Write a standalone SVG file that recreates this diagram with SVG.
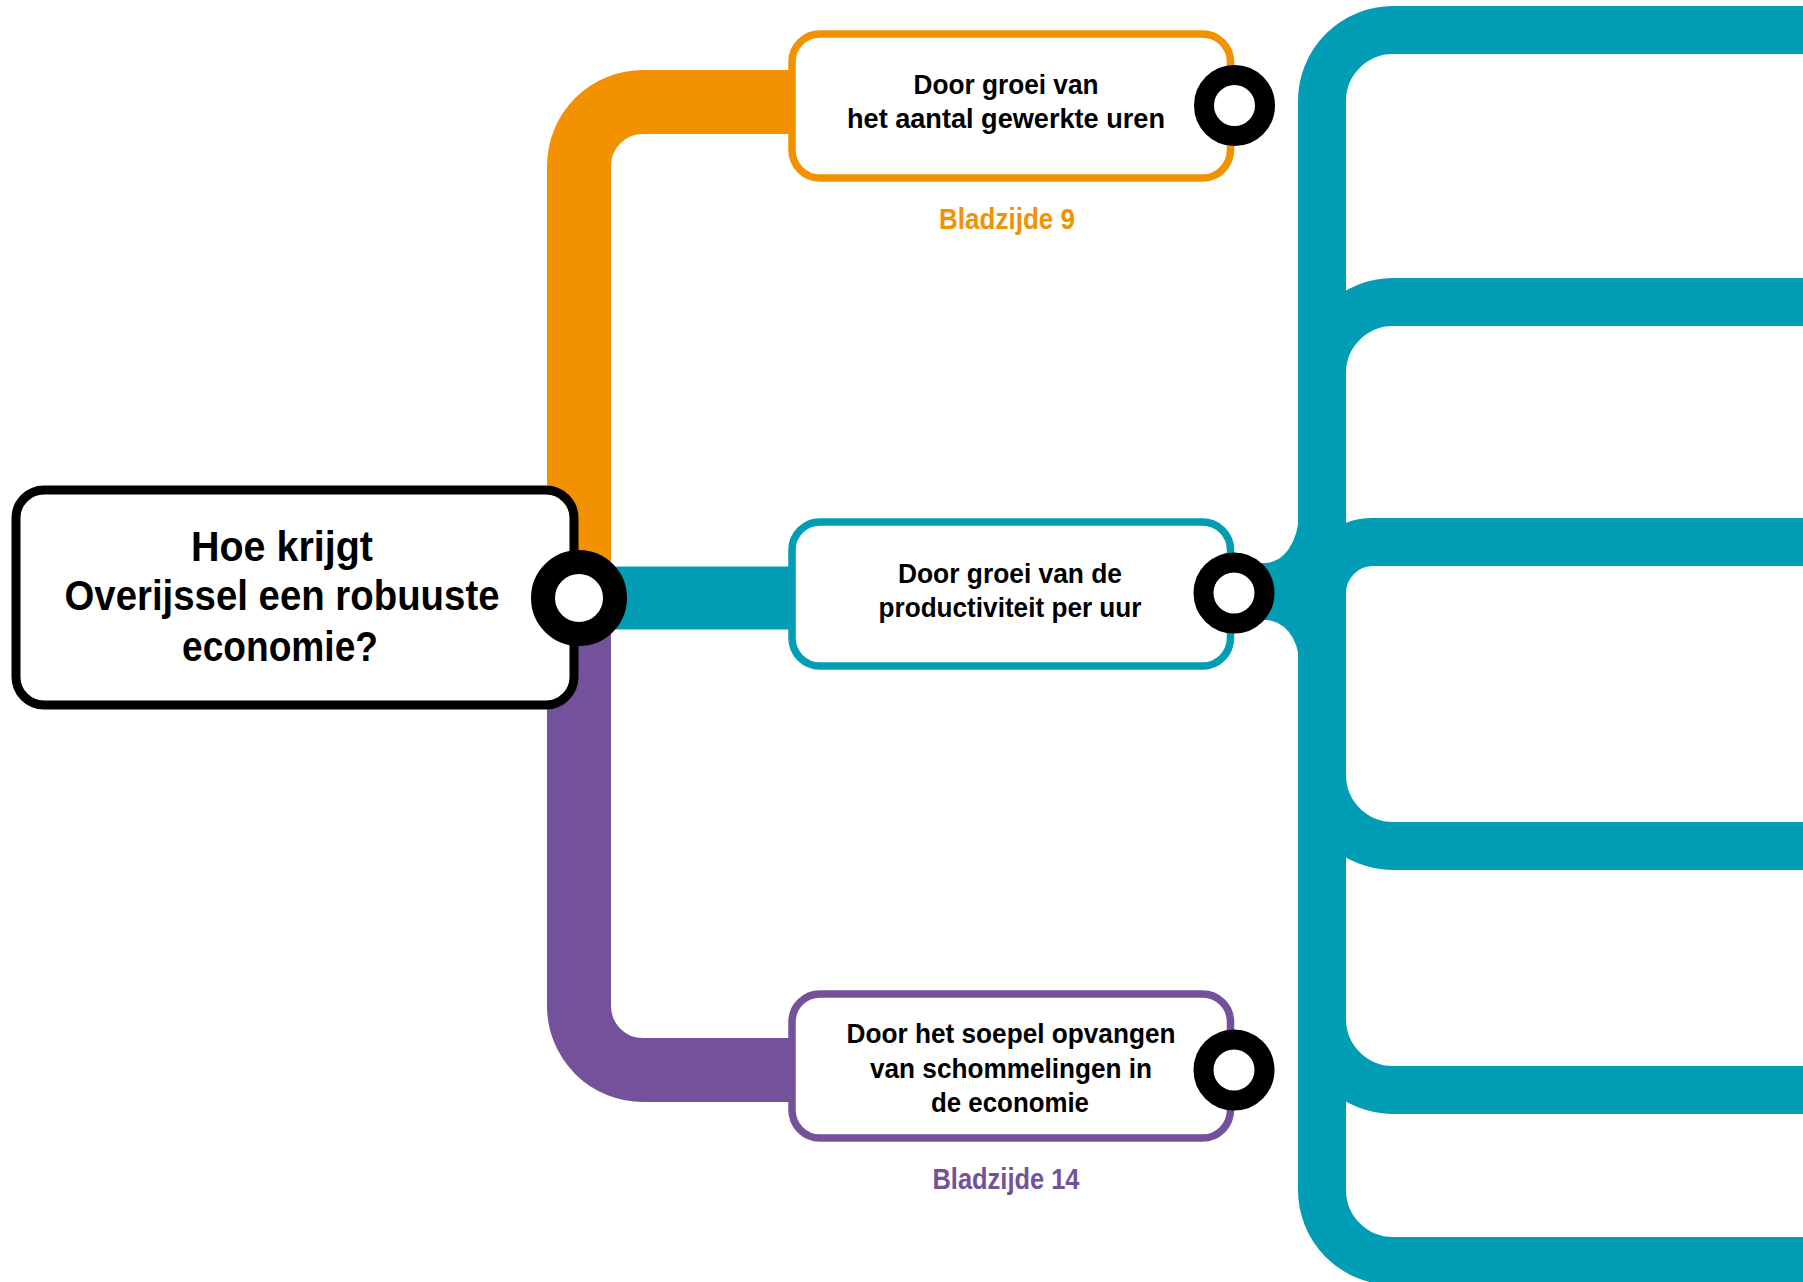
<svg xmlns="http://www.w3.org/2000/svg" width="1803" height="1282" viewBox="0 0 1803 1282">
<style>
.rail{fill:none}
.t{font-family:"Liberation Sans","Open Sans",Arial,sans-serif;font-weight:bold;fill:#000;text-anchor:middle}
.s{font-size:28px}
.m{font-size:42px}
.pg{font-size:29px}
.box{fill:#fff;stroke-width:7.5}
.ring{fill:#fff;stroke:#000}
</style>
<rect x="0" y="0" width="1803" height="1282" fill="#fff"/>
<g id="connectors">
  <path class="rail" d="M 1803 30 H 1393 A 71 71 0 0 0 1322 101 V 1190 A 71 71 0 0 0 1393 1261 H 1803" stroke="#009DB4" stroke-width="48"/>
  <path class="rail" d="M 1322 373 A 71 71 0 0 1 1393 302 H 1803" stroke="#009DB4" stroke-width="48"/>
  <path class="rail" d="M 1322 593 A 51 51 0 0 1 1373 542 H 1803" stroke="#009DB4" stroke-width="48"/>
  <path class="rail" d="M 1322 775 A 71 71 0 0 0 1393 846 H 1803" stroke="#009DB4" stroke-width="48"/>
  <path class="rail" d="M 1322 1019 A 71 71 0 0 0 1393 1090 H 1803" stroke="#009DB4" stroke-width="48"/>
  <path d="M 1299 505 V 513 A 34 50 0 0 1 1264 563 L 1240 563 L 1240 620 L 1264 620 A 34 42 0 0 1 1299 662 V 670 Z" fill="#009DB4"/>
  <path class="rail" d="M 579 598 V 166 A 64 64 0 0 1 643 102 H 800" stroke="#F39200" stroke-width="64"/>
  <path class="rail" d="M 579 598 V 1006 A 64 64 0 0 0 643 1070 H 800" stroke="#74519B" stroke-width="64"/>
  <path class="rail" d="M 579 598 H 800" stroke="#009DB4" stroke-width="63"/>
</g>
<g id="main">
  <rect x="16" y="490" width="558" height="215" rx="28" fill="#fff" stroke="#000" stroke-width="9"/>
  <text class="t m" x="282" y="561" textLength="182" lengthAdjust="spacingAndGlyphs">Hoe krijgt</text>
  <text class="t m" x="282" y="610" textLength="435" lengthAdjust="spacingAndGlyphs">Overijssel een robuuste</text>
  <text class="t m" x="280" y="661" textLength="196" lengthAdjust="spacingAndGlyphs">economie?</text>
  <circle class="ring" cx="579" cy="598" r="36" stroke-width="24"/>
</g>
<g id="node-uren">
  <rect class="box" x="792" y="34" width="438.5" height="144" rx="28" stroke="#F39200"/>
  <text class="t s" x="1006" y="94" textLength="185" lengthAdjust="spacingAndGlyphs">Door groei van</text>
  <text class="t s" x="1006" y="128" textLength="318" lengthAdjust="spacingAndGlyphs">het aantal gewerkte uren</text>
  <circle class="ring" cx="1234.5" cy="105.5" r="30.5" stroke-width="20"/>
  <text class="t pg" x="1007" y="229" style="fill:#F39200" textLength="136" lengthAdjust="spacingAndGlyphs">Bladzijde 9</text>
</g>
<g id="node-productiviteit">
  <rect class="box" x="792" y="522" width="438.5" height="144" rx="28" stroke="#009DB4"/>
  <text class="t s" x="1010" y="583" textLength="224" lengthAdjust="spacingAndGlyphs">Door groei van de</text>
  <text class="t s" x="1010" y="617" textLength="263" lengthAdjust="spacingAndGlyphs">productiviteit per uur</text>
  <circle class="ring" cx="1234" cy="593" r="30.5" stroke-width="20"/>
</g>
<g id="node-schommelingen">
  <rect class="box" x="792" y="994" width="438.5" height="144" rx="28" stroke="#74519B"/>
  <text class="t s" x="1011" y="1043" textLength="329" lengthAdjust="spacingAndGlyphs">Door het soepel opvangen</text>
  <text class="t s" x="1011" y="1078" textLength="282" lengthAdjust="spacingAndGlyphs">van schommelingen in</text>
  <text class="t s" x="1010" y="1112" textLength="158" lengthAdjust="spacingAndGlyphs">de economie</text>
  <circle class="ring" cx="1234" cy="1070" r="30.5" stroke-width="20"/>
  <text class="t pg" x="1006" y="1189" style="fill:#74519B" textLength="147" lengthAdjust="spacingAndGlyphs">Bladzijde 14</text>
</g>
</svg>
